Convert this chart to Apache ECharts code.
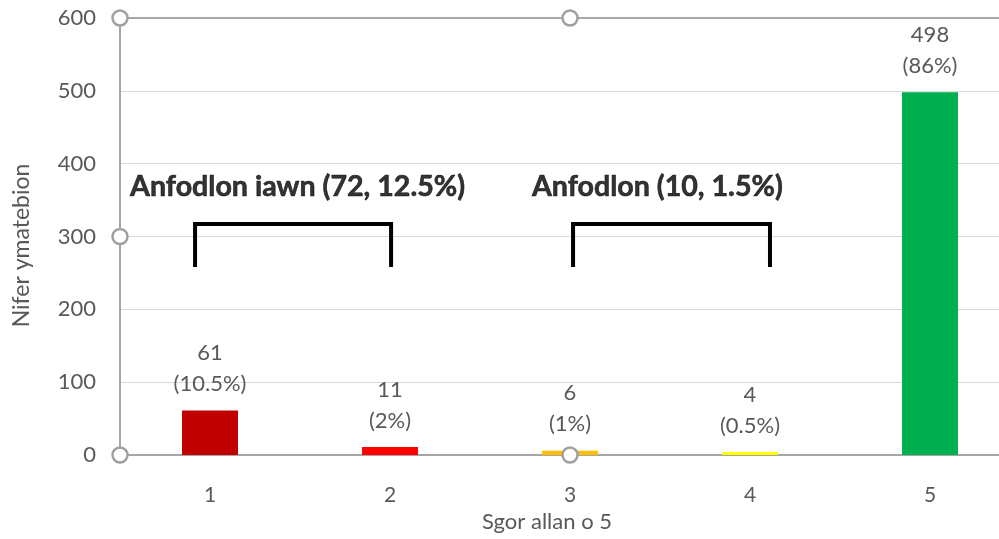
<!DOCTYPE html>
<html>
<head>
<meta charset="utf-8">
<script src="https://cdn.jsdelivr.net/npm/echarts@6/dist/echarts.min.js"></script>
<style>
html,body{margin:0;padding:0;background:#fff;}
#main{width:999px;height:539px;}
</style>
</head>
<body>
<div id="main"></div>
<script>
// ---- data ----
var categories = ['1', '2', '3', '4', '5'];
var counts = [61, 11, 6, 4, 498];
var percents = ['10.5%', '2%', '1%', '0.5%', '86%'];
var barColors = ['#C00000', '#FF0000', '#FFC000', '#FFFF00', '#00B050'];
var yTicks = [0, 100, 200, 300, 400, 500, 600];
var groupTitles = ['Anfodlon iawn (72, 12.5%)', 'Anfodlon (10, 1.5%)'];
// bracket outlines in (category-position, value) space
var bracket1 = [[0.417, 261], [0.417, 317], [1.506, 317], [1.506, 261]];
var bracket2 = [[2.517, 261], [2.517, 317], [3.611, 317], [3.611, 261]];
var titleAnchors = [[0.056, 368], [2.289, 368]];

var FONT = 'Lato';
var G = {left: 120, top: 18, width: 900, height: 437};

var chart = echarts.init(document.getElementById('main'));
var option = {
  backgroundColor: '#ffffff',
  animation: false,
  textStyle: {fontFamily: FONT},
  grid: {left: G.left, top: G.top, width: G.width, height: G.height,
    containLabel: false, outerBoundsMode: 'none'},
  xAxis: [{
    type: 'category',
    data: categories,
    axisLine: {show: true, lineStyle: {color: '#A6A6A6', width: 2}},
    axisTick: {show: false},
    axisLabel: {color: '#595959', fontSize: 21, margin: 30, fontFamily: FONT},
    name: 'Sgor allan o 5',
    nameLocation: 'middle',
    nameGap: 53,
    nameTextStyle: {color: '#595959', fontSize: 22, fontFamily: FONT, padding: [0, 46, 0, 0]}
  }, {
    type: 'value', min: 0, max: 5, show: false
  }],
  yAxis: {
    type: 'value',
    min: 0, max: 600, interval: 100,
    axisLine: {show: true, lineStyle: {color: '#A6A6A6', width: 2}},
    axisTick: {show: false},
    axisLabel: {color: '#595959', fontSize: 22, margin: 24, fontFamily: FONT,
      formatter: function (v) { return yTicks.indexOf(v) >= 0 ? String(v) : ''; }},
    splitLine: {lineStyle: {color: '#D9D9D9', width: 1}},
    name: 'Nifer ymatebion',
    nameLocation: 'middle',
    nameGap: 87,
    nameTextStyle: {color: '#595959', fontSize: 23, fontFamily: FONT, padding: [0, 18, 0, 0]}
  },
  series: [{
    type: 'bar',
    barWidth: 56,
    data: counts.map(function (v, i) { return {value: v, itemStyle: {color: barColors[i]}}; }),
    label: {
      show: true, position: 'top', distance: 11,
      color: '#595959', fontSize: 22, lineHeight: 31, fontFamily: FONT,
      formatter: function (p) { return p.value + '\n(' + percents[p.dataIndex] + ')'; }
    },
    markLine: {
      silent: true, symbol: 'none', label: {show: false},
      lineStyle: {color: '#A6A6A6', width: 2, type: 'solid'},
      data: [{yAxis: 600}]
    }
  }, {
    type: 'line', xAxisIndex: 1, data: bracket1, symbol: 'none', silent: true,
    lineStyle: {color: '#000000', width: 4, cap: 'square', join: 'miter'}
  }, {
    type: 'line', xAxisIndex: 1, data: bracket2, symbol: 'none', silent: true,
    lineStyle: {color: '#000000', width: 4, cap: 'square', join: 'miter'}
  }, {
    type: 'scatter', xAxisIndex: 1, symbolSize: 0, silent: true,
    data: titleAnchors.map(function (a, i) { return {value: a, name: groupTitles[i]}; }),
    label: {
      show: true, position: 'right', distance: 0,
      color: '#000000', fontSize: 28.6, fontWeight: 'bold', fontFamily: FONT,
      textBorderColor: '#000000', textBorderWidth: 0.6,
      formatter: function (p) { return p.name; }
    }
  }]
};
chart.setOption(option);

// selection handles of the plot area (decoration)
var hx = [G.left, G.left + G.width / 2, G.left, G.left, G.left + G.width / 2];
var hy = [G.top, G.top, G.top + G.height / 2, G.top + G.height, G.top + G.height];
var handles = hx.map(function (x, i) {
  return {type: 'circle', shape: {cx: x, cy: hy[i], r: 7.5}, z: 100,
    style: {fill: '#ffffff', stroke: '#A0A0A0', lineWidth: 2.5}};
});
chart.setOption({graphic: handles});
</script>
</body>
</html>
